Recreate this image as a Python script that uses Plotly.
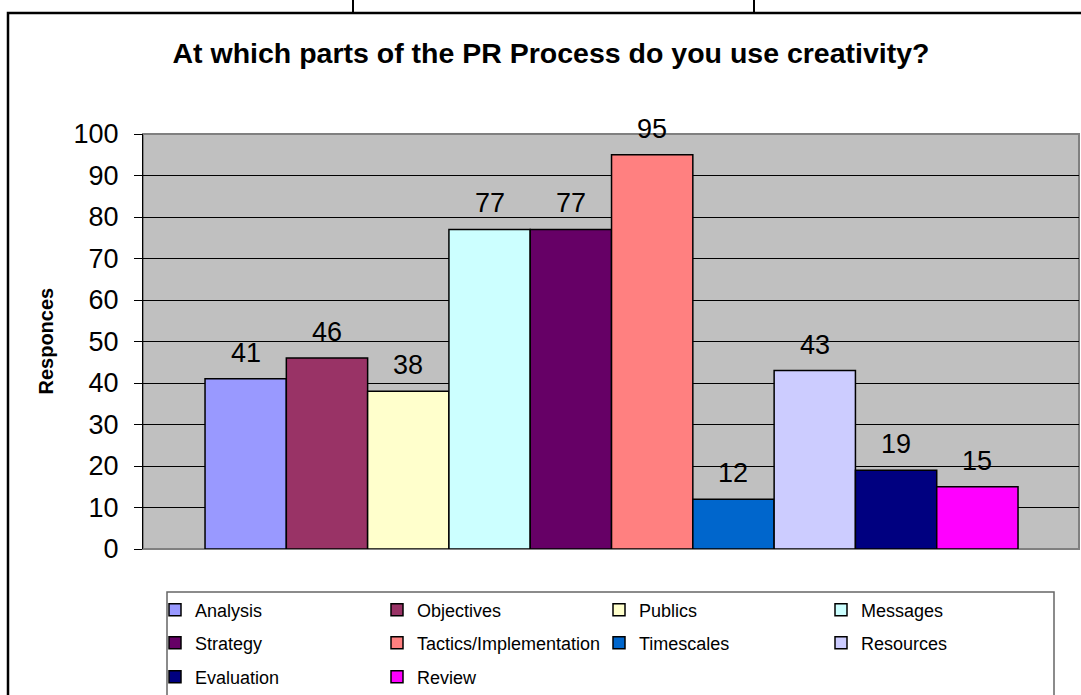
import plotly.graph_objects as go

# ---- data ----
categories = ["Analysis", "Objectives", "Publics", "Messages", "Strategy",
              "Tactics/Implementation", "Timescales", "Resources", "Evaluation", "Review"]
values = [41, 46, 38, 77, 77, 95, 12, 43, 19, 15]
colors = ["#9999FF", "#993366", "#FFFFCC", "#CCFFFF", "#660066",
          "#FF8080", "#0066CC", "#CCCCFF", "#000080", "#FF00FF"]
y_ticks = [0, 10, 20, 30, 40, 50, 60, 70, 80, 90, 100]
title_text = "At which parts of the PR Process do you use creativity?"
y_title = "Responces"

W, H = 1081, 695
ML, MR, MT, MB = 143, 2, 134, 146
PW = W - ML - MR
PH = H - MT - MB

def px(x):
    return (x - ML) / PW

def py(y):
    return (H - MB - y) / PH

FONT = "Arial, 'Liberation Sans', sans-serif"

fig = go.Figure()
legend_for = ["legend"] * 4 + ["legend2"] * 4 + ["legend3"] * 2
for i, (c, v, col) in enumerate(zip(categories, values, colors)):
    fig.add_trace(go.Bar(
        x=[i], y=[v], name=c, width=1,
        marker=dict(color=col, line=dict(color="black", width=1.5)),
        legend=legend_for[i], hoverinfo="name+y",
    ))

for i, v in enumerate(values):
    fig.add_annotation(x=i, y=v, text=str(v), showarrow=False, xref="x", yref="y",
                       yanchor="bottom", yshift=9,
                       font=dict(family=FONT, size=27, color="black"))

# y-axis title
fig.add_annotation(text=y_title, textangle=-90, showarrow=False,
                   xref="paper", yref="paper", x=px(45), y=0.5,
                   xanchor="center", yanchor="middle",
                   font=dict(family=FONT, size=20, color="black", weight="bold"))

shapes = [
    # plot area border
    dict(type="rect", xref="paper", yref="paper", x0=0, y0=0, x1=1, y1=1,
         line=dict(color="#808080", width=2), layer="below"),
    # outer chart border
    dict(type="rect", xref="paper", yref="paper", x0=px(8), y0=py(13), x1=px(1110), y1=py(730),
         line=dict(color="black", width=2.5)),
    # legend box
    dict(type="rect", xref="paper", yref="paper", x0=px(167), y0=py(592), x1=px(1054), y1=py(720),
         line=dict(color="#666666", width=1.5)),
    # small marks at the top
    dict(type="line", xref="paper", yref="paper", x0=px(353), x1=px(353), y0=py(0), y1=py(12),
         line=dict(color="black", width=2)),
    dict(type="line", xref="paper", yref="paper", x0=px(754), x1=px(754), y0=py(0), y1=py(12),
         line=dict(color="black", width=2)),
]

leg_common = dict(orientation="h", xref="paper", yref="paper", xanchor="left", yanchor="middle",
                  font=dict(family=FONT, size=18, color="black"), bgcolor="rgba(0,0,0,0)",
                  borderwidth=0, entrywidth=177, entrywidthmode="pixels", itemclick=False)

fig.update_layout(
    width=W, height=H,
    margin=dict(l=ML, r=MR, t=MT, b=MB, autoexpand=False),
    paper_bgcolor="white", plot_bgcolor="#C0C0C0",
    barmode="overlay",
    showlegend=True,
    title=dict(text=title_text, x=551 / W, xanchor="center", xref="container",
               y=1 - 53 / H, yanchor="middle", yref="container",
               font=dict(family=FONT, size=28.5, color="black", weight="bold")),
    xaxis=dict(range=[-1.263, 10.25], showticklabels=False, showgrid=False, zeroline=False,
               showline=False, ticks="", fixedrange=True),
    yaxis=dict(range=[0, 100], tickvals=y_ticks, ticktext=[str(t) for t in y_ticks],
               showgrid=True, gridcolor="black", gridwidth=1, zeroline=False,
               showline=True, linecolor="black", linewidth=1,
               ticks="outside", ticklen=8, tickcolor="black", tickwidth=1,
               ticklabelstandoff=10,
               tickfont=dict(family=FONT, size=27, color="black"), fixedrange=True),
    legend=dict(x=px(155), y=py(610), **leg_common),
    legend2=dict(x=px(155), y=py(643), **leg_common),
    legend3=dict(x=px(155), y=py(677), **leg_common),
    shapes=shapes,
)

fig.write_html("out.html")
